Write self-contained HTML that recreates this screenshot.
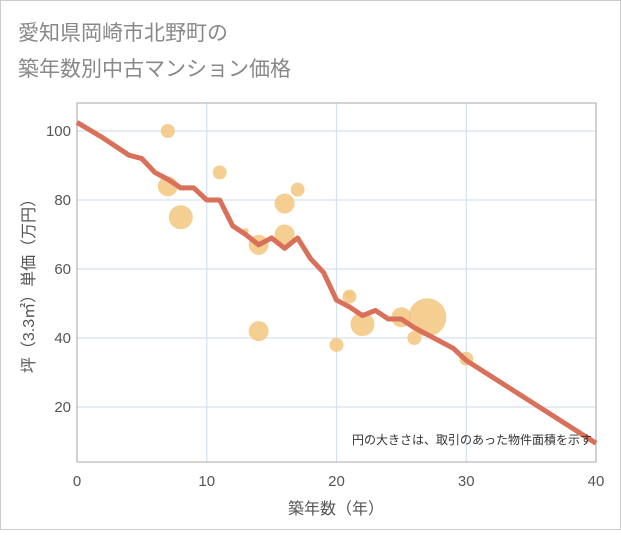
<!DOCTYPE html>
<html><head><meta charset="utf-8"><style>
body{margin:0;background:#fff;}
svg text{font-family:"Liberation Sans","Noto Sans CJK JP",sans-serif;}
</style></head><body>
<svg width="621" height="530" viewBox="0 0 621 530">
<rect x="0.5" y="0.5" width="620" height="529" fill="#fff" stroke="#ccc"/>
<text x="18" y="40" font-size="21" fill="#888">愛知県岡崎市北野町の</text>
<text x="18" y="76" font-size="21" fill="#888">築年数別中古マンション価格</text>
<g id="grid"></g>
<rect x="77" y="103" width="519" height="359" fill="none" stroke="#aaa"/>
<g id="bubbles"></g>
<path id="line" fill="none" stroke="#d9705a" stroke-width="5" stroke-linejoin="round"/>
<g id="ticks"></g>
<text x="592" y="444" font-size="12" fill="#333" text-anchor="end">円の大きさは、取引のあった物件面積を示す</text>
<text x="336" y="514" font-size="16" fill="#555" text-anchor="middle">築年数（年）</text>
<text transform="translate(34,282) rotate(-90)" font-size="16" fill="#555" text-anchor="middle">坪（3.3㎡）単価（万円）</text>
</svg>
<script>
const xTicks=[0,10,20,30,40];
const yTicks=[20,40,60,80,100];
const bubbleX=[7,7,8,11,13,14,14,16,16,17,20,21,21,22,25,26,27,30];
const bubbleY=[100,84,75,88,71,67,42,79,70,83,38,52,52.5,44,46,40,46,34];
const bubbleR=[7,10,12,7,3,10,10,10,10,7,7,7,4,12,10,7,19,7];
const lineX=[0,2,4,5,6,7,8,9,10,11,12,13,14,15,16,17,18,19,20,21,22,23,24,25,26,27,29,30,40];
const lineY=[102.5,98,93,92,88,86,83.5,83.5,80,80,72.5,70,67,69,66,69,63,59,51,49,46.5,48,45.5,45.5,43,41,37,33.5,9.5];
const px=x=>77+x*12.975, py=y=>476-y*3.45;
const NS="http://www.w3.org/2000/svg";
const grid=document.getElementById('grid'),ticks=document.getElementById('ticks');
function mk(tag,attrs,parent){const e=document.createElementNS(NS,tag);for(const k in attrs)e.setAttribute(k,attrs[k]);parent.appendChild(e);return e;}
xTicks.forEach(t=>{
 const l=mk('line',{x1:px(t),x2:px(t),y1:103,y2:462,stroke:'#d5e1ec','stroke-width':1.2},grid);
 
 
 const tx=mk('text',{x:px(t),y:486,'font-size':15,fill:'#555','text-anchor':'middle'},ticks);
 tx.textContent=t;
 
 
});
yTicks.forEach(t=>{
 const l=mk('line',{x1:77,x2:596,y1:py(t),y2:py(t),stroke:'#d5e1ec','stroke-width':1.2},grid);
 
 
 const tx=mk('text',{x:71,y:py(t)+5,'font-size':15,fill:'#555','text-anchor':'end'},ticks);
 tx.textContent=t;
 
 
});
const bg=document.getElementById('bubbles');
bubbleX.forEach((x,i)=>{
 const c=mk('circle',{cx:px(x),cy:py(bubbleY[i]),r:bubbleR[i],fill:'#f3c57f','fill-opacity':0.85},bg);
 
 
});
document.getElementById('line').setAttribute('d',lineX.map((x,i)=>(i?'L':'M')+px(x)+','+py(lineY[i])).join(''));
</script>
</body></html>
